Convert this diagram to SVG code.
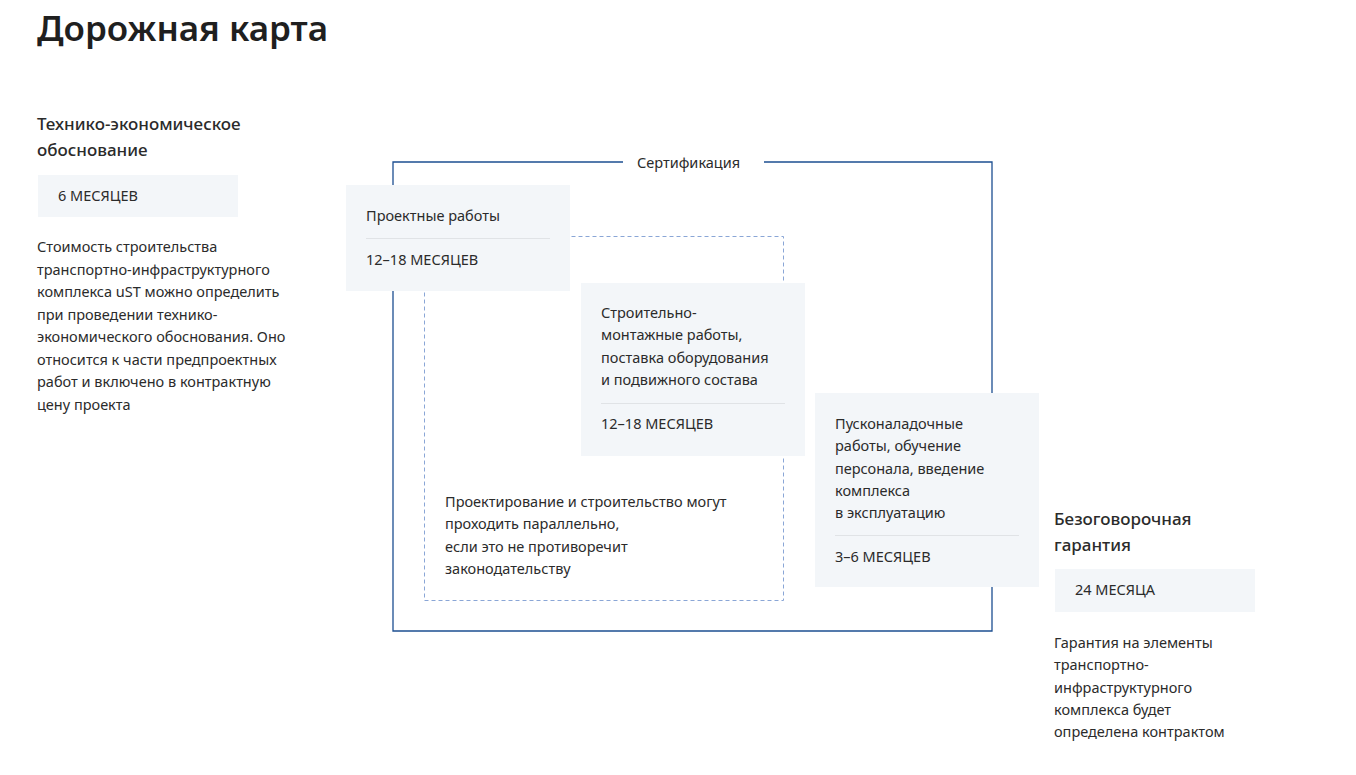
<svg xmlns="http://www.w3.org/2000/svg" width="1356" height="775" viewBox="0 0 1356 775">
<style>
text{font-family:"Noto Sans","Open Sans",sans-serif;fill:#2b2b2b;font-size:14.5px}
.h{font-size:17px;font-weight:500}
.card{fill:#f3f6f9}
.sep{stroke:#e0e3e6;stroke-width:1}
</style>
<rect width="1356" height="775" fill="#fff"/>
<text x="37" y="41" style="font-size:35px;font-weight:600;fill:#1f1f1f">Дорожная карта</text>
<g id="connectors">
<path d="M623 162H393V631H992V162H764" fill="none" stroke="#1d4f91" stroke-width="1.3"/>
<rect x="424.5" y="236.5" width="359" height="364" fill="none" stroke="#8aa6d6" stroke-width="1" stroke-dasharray="4 3"/>
</g>
<text x="637" y="168">Сертификация</text>
<g id="teo">
<text class="h" x="37" y="130">Технико-экономическое</text>
<text class="h" x="37" y="156">обоснование</text>
<rect class="card" x="38" y="175" width="200" height="42"/>
<text x="58" y="201">6 МЕСЯЦЕВ</text>
<text x="37" y="252">Стоимость строительства</text>
<text x="37" y="275">транспортно-инфраструктурного</text>
<text x="37" y="297">комплекса uST можно определить</text>
<text x="37" y="320">при проведении технико-</text>
<text x="37" y="342">экономического обоснования. Оно</text>
<text x="37" y="365">относится к части предпроектных</text>
<text x="37" y="387">работ и включено в контрактную</text>
<text x="37" y="410">цену проекта</text>
</g>
<g id="project">
<rect class="card" x="346" y="185" width="224" height="106"/>
<text x="366" y="221">Проектные работы</text>
<line class="sep" x1="366" y1="238.5" x2="550" y2="238.5"/>
<text x="366" y="265">12–18 МЕСЯЦЕВ</text>
</g>
<g id="build">
<rect class="card" x="581" y="283" width="224" height="173"/>
<text x="601" y="318">Строительно-</text>
<text x="601" y="340">монтажные работы,</text>
<text x="601" y="363">поставка оборудования</text>
<text x="601" y="385">и подвижного состава</text>
<line class="sep" x1="601" y1="403.5" x2="785" y2="403.5"/>
<text x="601" y="429">12–18 МЕСЯЦЕВ</text>
</g>
<g id="note">
<text x="445" y="507">Проектирование и строительство могут</text>
<text x="445" y="529">проходить параллельно,</text>
<text x="445" y="552">если это не противоречит</text>
<text x="445" y="574">законодательству</text>
</g>
<g id="commission">
<rect class="card" x="815" y="393" width="224" height="194"/>
<text x="835" y="429">Пусконаладочные</text>
<text x="835" y="451">работы, обучение</text>
<text x="835" y="474">персонала, введение</text>
<text x="835" y="496">комплекса</text>
<text x="835" y="518">в эксплуатацию</text>
<line class="sep" x1="835" y1="535.5" x2="1019" y2="535.5"/>
<text x="835" y="562">3–6 МЕСЯЦЕВ</text>
</g>
<g id="warranty">
<text class="h" x="1054" y="525">Безоговорочная</text>
<text class="h" x="1054" y="551">гарантия</text>
<rect class="card" x="1055" y="569" width="200" height="43"/>
<text x="1075" y="595">24 МЕСЯЦА</text>
<text x="1054" y="648">Гарантия на элементы</text>
<text x="1054" y="670">транспортно-</text>
<text x="1054" y="693">инфраструктурного</text>
<text x="1054" y="715">комплекса будет</text>
<text x="1054" y="737">определена контрактом</text>
</g>
</svg>
